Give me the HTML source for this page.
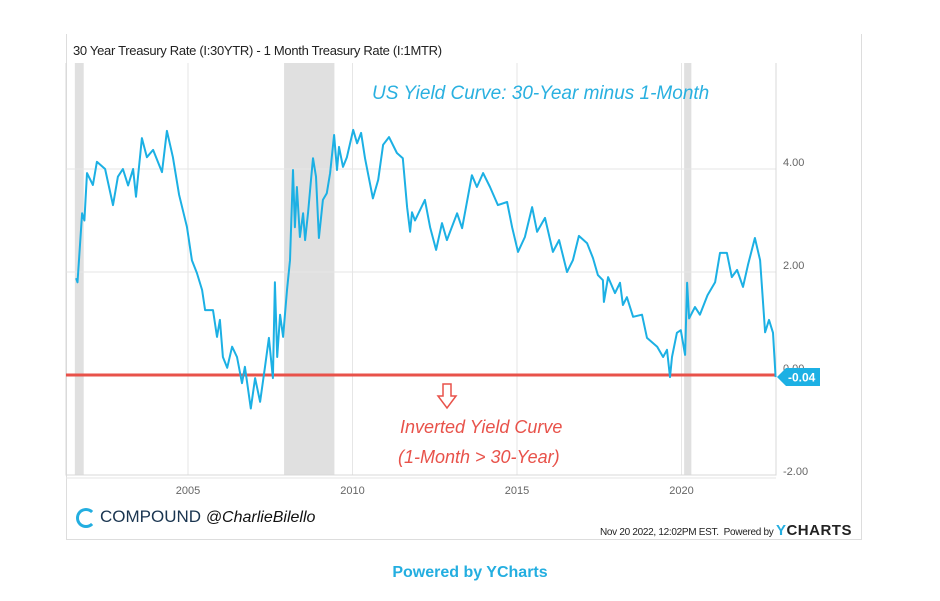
<!DOCTYPE html>
<html><head><meta charset="utf-8">
<style>
html,body{margin:0;padding:0;background:#fff;width:940px;height:601px;overflow:hidden;font-family:"Liberation Sans",sans-serif}
#card{position:absolute;left:66px;top:34px;width:796px;height:506px;border:1px solid #ddd;border-top:none;box-sizing:border-box}
#ctitle{position:absolute;left:73px;top:43px;font-size:13px;color:#222;letter-spacing:-0.3px}
svg{position:absolute;left:0;top:0}
#footer-left{position:absolute;left:76px;top:507px;font-size:17px;color:#1a3550}
#footer-right{position:absolute;left:600px;top:522px;font-size:10px;color:#222;letter-spacing:-0.3px;white-space:nowrap}
#powered{position:absolute;left:0;width:940px;top:564px;text-align:center;font-weight:bold;font-size:16px;color:#23aee0}
</style></head><body>
<div id="card"></div>
<div id="ctitle">30 Year Treasury Rate (I:30YTR) - 1 Month Treasury Rate (I:1MTR)</div>
<svg id="chart" width="940" height="601"></svg>
<div id="footer-left"><span style="display:inline-block;width:20px;height:20px;border:3px solid #23aee0;border-right-color:transparent;border-radius:50%;vertical-align:-6px;margin-right:4px;box-sizing:border-box"></span>COMPOUND <i style="color:#111;font-size:16px">@CharlieBilello</i></div>
<div id="footer-right">Nov 20 2022, 12:02PM EST. &nbsp;Powered by <b style="font-size:15px;letter-spacing:0.5px"><span style="color:#23aee0">Y</span>CHARTS</b></div>
<div id="powered">Powered by YCharts</div>
<script>
const years=[2001.60,2001.64,2001.78,2001.85,2001.93,2002.11,2002.23,2002.48,2002.72,2002.87,2003.02,2003.18,2003.33,2003.42,2003.60,2003.75,2003.94,2004.21,2004.36,2004.54,2004.73,2004.97,2005.12,2005.27,2005.43,2005.52,2005.76,2005.88,2005.97,2006.06,2006.19,2006.34,2006.49,2006.64,2006.73,2006.91,2007.04,2007.19,2007.34,2007.46,2007.58,2007.64,2007.71,2007.80,2007.89,2008.01,2008.10,2008.19,2008.25,2008.31,2008.40,2008.50,2008.56,2008.65,2008.74,2008.80,2008.89,2008.98,2009.10,2009.22,2009.32,2009.44,2009.53,2009.59,2009.71,2009.83,2010.02,2010.14,2010.26,2010.38,2010.62,2010.78,2010.93,2011.11,2011.35,2011.53,2011.66,2011.75,2011.81,2011.90,2012.20,2012.36,2012.54,2012.72,2012.87,2013.18,2013.33,2013.63,2013.78,2013.97,2014.18,2014.42,2014.70,2014.85,2015.03,2015.24,2015.46,2015.61,2015.85,2016.09,2016.28,2016.52,2016.70,2016.88,2017.13,2017.31,2017.46,2017.61,2017.64,2017.77,2017.98,2018.13,2018.22,2018.34,2018.53,2018.80,2018.95,2019.26,2019.44,2019.56,2019.65,2019.71,2019.86,2019.98,2020.11,2020.17,2020.23,2020.41,2020.56,2020.79,2021.02,2021.17,2021.38,2021.53,2021.69,2021.87,2022.02,2022.23,2022.39,2022.54,2022.66,2022.78,2022.86];
const values=[1.88,1.80,3.14,3.00,3.92,3.69,4.14,4.00,3.30,3.85,4.00,3.68,4.00,3.46,4.60,4.23,4.37,3.94,4.74,4.23,3.50,2.87,2.23,1.98,1.65,1.26,1.26,0.74,1.07,0.35,0.14,0.55,0.35,-0.16,0.16,-0.65,-0.06,-0.52,0.16,0.72,-0.06,1.80,0.35,1.17,0.74,1.65,2.23,3.98,2.87,3.65,2.68,3.14,2.62,3.16,3.79,4.21,3.85,2.66,3.40,3.53,3.92,4.66,3.98,4.43,4.04,4.23,4.76,4.50,4.70,4.21,3.43,3.79,4.47,4.62,4.31,4.21,3.26,2.78,3.16,3.00,3.40,2.87,2.43,2.95,2.62,3.14,2.85,3.88,3.65,3.92,3.65,3.30,3.36,2.87,2.39,2.68,3.26,2.78,3.05,2.39,2.62,2.00,2.23,2.70,2.56,2.27,1.94,1.84,1.42,1.90,1.59,1.79,1.36,1.51,1.13,1.17,0.72,0.55,0.35,0.49,-0.04,0.35,0.82,0.87,0.39,1.79,1.10,1.32,1.17,1.55,1.80,2.37,2.37,1.90,2.04,1.71,2.14,2.66,2.23,0.83,1.07,0.82,-0.04];
const yTicks=[4,2,0,-2];
const yTickLabels=["4.00","2.00","0.00","-2.00"];
const xTicks=[2005,2010,2015,2020];
const recessionStarts=[2001.56,2007.92,2020.08];
const recessionEnds=[2001.83,2009.45,2020.30];
const lastValue="-0.04";

const svg=document.getElementById('chart');
const NS='http://www.w3.org/2000/svg';
const L=66,R=776,T=63,B=475;
const X=y=>188+(y-2005)*32.9;
const Y=v=>375-v*51.5;
function mk(tag,attrs){const e=document.createElementNS(NS,tag);for(const k in attrs)e.setAttribute(k,attrs[k]);svg.appendChild(e);return e;}

for(let i=0;i<recessionStarts.length;i++){
  const r=mk('rect',{x:Math.max(L,X(recessionStarts[i])),y:T,width:X(recessionEnds[i])-Math.max(L,X(recessionStarts[i])),height:B-T,fill:'#e0e0e0'});
  
  
}
yTicks.forEach((t,i)=>{
  const g=mk('line',{x1:L,x2:R,y1:Y(t),y2:Y(t),stroke:'#e6e6e6','stroke-width':1});
  
  
  const tx=mk('text',{x:783,y:Y(t)-3,'font-size':11,fill:'#666','font-family':'Liberation Sans, sans-serif'});
  tx.textContent=yTickLabels[i];
  
  
});
xTicks.forEach(t=>{
  const g=mk('line',{x1:X(t),x2:X(t),y1:T,y2:B,stroke:'#e6e6e6','stroke-width':1});
  
  
  const tx=mk('text',{x:X(t),y:494,'font-size':11,fill:'#666','text-anchor':'middle','font-family':'Liberation Sans, sans-serif'});
  tx.textContent=String(t);
  
  
});
const ax=mk('path',{d:`M${L},${T}V${B}H${R}V${T}`,fill:'none',stroke:'#d8d8d8','stroke-width':1});



const rl=mk('line',{x1:L,x2:R,y1:Y(0),y2:Y(0),stroke:'#e8524a','stroke-width':3});



let d='';
years.forEach((yr,i)=>{d+=(i?'L':'M')+X(yr).toFixed(1)+','+Y(values[i]).toFixed(1);});
const line=mk('path',{d:d,fill:'none',stroke:'#1cb0e4','stroke-width':2,'stroke-linejoin':'round'});



const ly=Y(values[values.length-1]);
const tag=mk('path',{d:`M777,${ly}L786,${ly-9}H820V${ly+9}H786Z`,fill:'#1cb0e4'});


const tt=mk('text',{x:788,y:ly+4.5,'font-size':12,'font-weight':'bold',fill:'#fff','font-family':'Liberation Sans, sans-serif'});
tt.textContent=lastValue;



const ann=mk('text',{x:372,y:99,'font-size':19,fill:'#29b0e0','font-family':'Liberation Sans, sans-serif','font-style':'italic'});
ann.textContent='US Yield Curve: 30-Year minus 1-Month';


const arrow=mk('path',{d:'M443,384H451V396H456L447,408L438,396H443Z',fill:'none',stroke:'#e8524a','stroke-width':1.5});


const a1=mk('text',{x:400,y:433,'font-size':18,fill:'#e8524a','font-family':'Liberation Sans, sans-serif','font-style':'italic'});
a1.textContent='Inverted Yield Curve';


const a2=mk('text',{x:398,y:463,'font-size':18,fill:'#e8524a','font-family':'Liberation Sans, sans-serif','font-style':'italic'});
a2.textContent='(1-Month > 30-Year)';


</script>
</body></html>
